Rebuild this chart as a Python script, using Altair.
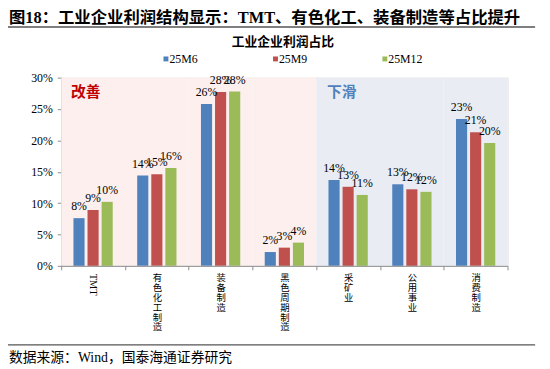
import altair as alt
import pandas as pd

# ---------------- data ----------------
categories = ["TMT", "有色化工制造", "装备制造", "黑色周期制造", "采矿业", "公用事业", "消费制造"]
series = ["25M6", "25M9", "25M12"]
v_25m6 = [0.076, 0.144, 0.258, 0.022, 0.137, 0.130, 0.234]
v_25m9 = [0.089, 0.146, 0.277, 0.029, 0.126, 0.122, 0.213]
v_25m12 = [0.102, 0.156, 0.278, 0.037, 0.113, 0.118, 0.196]
regions = ["改善", "改善", "改善", "改善", "下滑", "下滑", "下滑"]
region_names = ["改善", "下滑"]
y_ticks = [0, 0.05, 0.10, 0.15, 0.20, 0.25, 0.30]

page_title = ["图18：工业企业利润结构显示：TMT、有色化工、装备制造等占比提升"]
chart_title = ["工业企业利润占比"]
source_text = ["数据来源：Wind，国泰海通证券研究"]

# ---------------- styles ----------------
bar_colors = ["#4F81BD", "#C0504D", "#9BBB59"]
bg_colors = ["#FCEFEE", "#E9EDF3"]
region_text_colors = ["#C00000", "#4F81BD"]
SERIF = "Liberation Serif, Noto Sans CJK SC"
W, H = 453, 191

rows = []
for name, vals in zip(series, [v_25m6, v_25m9, v_25m12]):
    for c, v in zip(categories, vals):
        rows.append({"cat": c, "series": name, "value": v})
df = pd.DataFrame(rows)
df_bg = pd.DataFrame({"cat": categories, "region": regions})

X = alt.X(
    "cat:N",
    sort=categories,
    scale=alt.Scale(domain=categories, paddingInner=0, paddingOuter=0),
    axis=alt.Axis(
        title=None,
        labelAngle=0,
        tickBand="extent",
        ticks=True,
        tickSize=4,
        tickColor="#8C8C8C",
        domainColor="#8C8C8C",
        labelExpr="(isString(datum.value) && datum.value != 'TMT') ? split(datum.value, '') : ''",
        labelBaseline="top",
        labelLineHeight=10,
        labelFontSize=9.5,
        labelFont="Noto Sans CJK SC",
        labelColor="#000000",
        labelPadding=3,
    ),
)
Y = alt.Y(
    "value:Q",
    scale=alt.Scale(domain=[0, 0.30], nice=False),
    axis=alt.Axis(
        title=None,
        values=y_ticks,
        format=".0%",
        grid=False,
        tickSize=4,
        tickColor="#8C8C8C",
        domainColor="#8C8C8C",
        labelFont=SERIF,
        labelFontSize=12,
        labelColor="#000000",
        labelPadding=5,
    ),
)
XO = alt.XOffset(
    "series:N",
    sort=series,
    scale=alt.Scale(domain=series, paddingInner=0.21, paddingOuter=0.87),
)

bg = alt.Chart(df_bg).mark_rect().encode(
    x=X,
    y=alt.value(0),
    y2=alt.value(H),
    color=alt.Color("region:N", scale=alt.Scale(domain=region_names, range=bg_colors), legend=None),
)

bars = alt.Chart(df).mark_bar().encode(
    x=X,
    xOffset=XO,
    y=Y,
    color=alt.Color("series:N", scale=alt.Scale(domain=series, range=bar_colors), legend=None),
)

labels = alt.Chart(df).mark_text(
    font=SERIF, fontSize=12, color="#000000", baseline="alphabetic", dy=-8
).encode(
    x=X,
    xOffset=XO,
    y=Y,
    text=alt.Text("value:Q", format=".0%"),
)

tmt_label = alt.Chart(pd.DataFrame({"cat": categories[:1]})).mark_text(
    font=SERIF, fontSize=10.5, color="#000000", angle=90, align="left", baseline="middle"
).encode(
    x=X,
    y=alt.value(H + 8),
    text="cat:N",
)

def txt(values, x, y, **kw):
    return alt.Chart(pd.DataFrame({"t": values})).mark_text(**kw).encode(
        x=alt.value(x), y=alt.value(y), text="t:N"
    )

def hline(x1, x2, y, color, width):
    return alt.Chart(pd.DataFrame({"a": [0]})).mark_rule(color=color, strokeWidth=width).encode(
        x=alt.value(x1), x2=alt.value(x2), y=alt.value(y)
    )

layers = [bg, bars, labels, tmt_label]

layers.append(txt(page_title, -53, -60, font=SERIF, fontSize=16.6, fontWeight="bold",
                  align="left", baseline="middle", color="#000000"))
layers.append(hline(-54, 481, -51.3, "#555555", 1.5))
layers.append(txt(chart_title, 225, -36, font=SERIF, fontSize=13, fontWeight="bold",
                  align="center", baseline="middle", color="#000000"))

leg_sq_x = [106.3, 217.5, 328.5]
for name, col, sx in zip(series, bar_colors, leg_sq_x):
    layers.append(
        alt.Chart(pd.DataFrame({"t": [name]})).mark_square(size=25, color=col, opacity=1).encode(
            x=alt.value(sx), y=alt.value(-19)
        )
    )
    layers.append(txt([name], sx + 3.5, -19, font=SERIF, fontSize=12, align="left",
                      baseline="middle", color="#000000"))

layers.append(txt(region_names[:1], 10, 15, font=SERIF, fontSize=15, fontWeight="bold",
                  align="left", baseline="middle", color=region_text_colors[0]))
layers.append(txt(region_names[1:], 269.7, 15, font=SERIF, fontSize=15, fontWeight="bold",
                  align="left", baseline="middle", color=region_text_colors[1]))

layers.append(hline(-54, 481, 271.3, "#555555", 1.2))
layers.append(txt(source_text, -53, 284.5, font=SERIF, fontSize=14, align="left",
                  baseline="middle", color="#000000"))

chart = (
    alt.layer(*layers)
    .resolve_scale(color="independent")
    .properties(
        width=W,
        height=H,
        autosize=alt.AutoSizeParams(type="none"),
        padding={"left": 54, "top": 68, "right": 35, "bottom": 101},
    )
    .configure_view(stroke=None)
    .configure(background="#FFFFFF")
)

chart.save("out.html", embed_options={"renderer": "svg", "actions": False})
